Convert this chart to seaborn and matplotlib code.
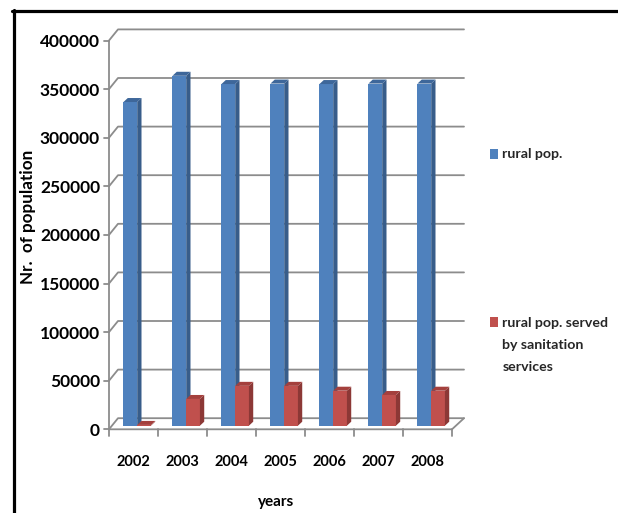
import numpy as np
import pandas as pd
import matplotlib
matplotlib.use("Agg")
import matplotlib.pyplot as plt
import seaborn as sns
from matplotlib.patches import Polygon, Rectangle
from matplotlib.lines import Line2D

# ---------------- data ----------------
years = ["2002", "2003", "2004", "2005", "2006", "2007", "2008"]
rural_pop = [333000, 360000, 351500, 352000, 351500, 352000, 352000]
rural_pop_served = [800, 27500, 41000, 41000, 36000, 31600, 36000]
series_names = ["rural pop.", "rural pop. served by sanitation services"]
legend_labels = ["rural pop.", "rural pop. served\nby sanitation\nservices"]
y_ticks = [0, 50000, 100000, 150000, 200000, 250000, 300000, 350000, 400000]
y_label = "Nr.  of population"
x_label = "years"

front_colors = ["#4F81BD", "#C0504D"]
side_colors = ["#385D8A", "#8C3836"]
top_colors = ["#3E679A", "#A4403D"]
grid_color = "#8C8C8C"

df = pd.DataFrame({
    "year": years * 2,
    "series": [series_names[0]] * len(years) + [series_names[1]] * len(years),
    "value": rural_pop + rural_pop_served,
})

sns.set_theme(style="white")
plt.rcParams["font.family"] = ["Lato", "DejaVu Sans"]

W, H = 618, 513
fig = plt.figure(figsize=(W / 100, H / 100), dpi=100)
fig.patch.set_facecolor("white")

# geometry (pixels)
PX_CAT = 49.0      # pixels per category
PX_K = 0.972       # pixels per 1000 units
X0 = 112.7         # pixel x of category edge -0.5 (bar plane)
Y0 = 425.7         # pixel y (from top) of value 0 (bar plane)
YMIN, YMAX = -12000, 412000

ax_left = X0 / W
ax_width = 7 * PX_CAT / W
ax_bottom = (H - (Y0 + (-YMIN) / 1000 * PX_K)) / H
ax_height = (YMAX - YMIN) / 1000 * PX_K / H
ax = fig.add_axes([ax_left, ax_bottom, ax_width, ax_height])


def dx(px):
    return px / PX_CAT


def dy(px):
    return px / PX_K * 1000


sns.barplot(data=df, x="year", y="value", hue="series", hue_order=series_names,
            palette=front_colors, width=0.56, saturation=1, legend=False,
            linewidth=0, edgecolor="none", ax=ax)

ax.set_xlim(-0.5, 6.5)
ax.set_ylim(YMIN, YMAX)
for s in ax.spines.values():
    s.set_visible(False)
ax.set_facecolor("none")

# 3D faces for bars
ddx, ddy = dx(4.3), dy(4.0)
for k, cont in enumerate(ax.containers):
    z = 2 + k
    for bar in cont:
        bar.set_zorder(z)
        x, w, h = bar.get_x(), bar.get_width(), bar.get_height()
        side = Polygon([(x + w, 0), (x + w + ddx, ddy), (x + w + ddx, h + ddy), (x + w, h)],
                       closed=True, facecolor=side_colors[k], edgecolor="none",
                       zorder=z + 0.1, clip_on=False)
        top = Polygon([(x, h), (x + ddx, h + ddy), (x + w + ddx, h + ddy), (x + w, h)],
                      closed=True, facecolor=top_colors[k], edgecolor="none",
                      zorder=z + 0.1, clip_on=False)
        ax.add_patch(side)
        ax.add_patch(top)

# walls / gridlines
FX, FY = dx(-3.7), dy(-3.6)
BX, BY = dx(5.3), dy(7.5)
RX = 6.5 + BX + dx(3)
lw = 1.3
for v in y_ticks:
    ax.add_line(Line2D([-0.5 + FX, -0.5 + BX, RX], [v + FY, v + BY, v + BY],
                       color=grid_color, lw=lw, zorder=0.5, clip_on=False))
    ax.add_line(Line2D([-0.5 + FX - dx(5), -0.5 + FX], [v + FY, v + FY],
                       color=grid_color, lw=lw, zorder=0.5, clip_on=False))
ax.add_line(Line2D([-0.5 + FX, -0.5 + FX], [FY, y_ticks[-1] + FY],
                   color=grid_color, lw=lw, zorder=0.5, clip_on=False))
ax.add_line(Line2D([-0.5 + FX, 6.5 + FX, RX], [FY, FY, BY],
                   color=grid_color, lw=lw, zorder=0.6, clip_on=False))
for j in range(len(years) + 1):
    ax.add_line(Line2D([j - 0.5 + FX, j - 0.5 + FX], [FY, FY - dy(6.5)],
                       color=grid_color, lw=lw, zorder=0.6, clip_on=False))

# ticks and labels
ax.set_yticks([v + FY for v in y_ticks], labels=[str(v) for v in y_ticks])
ax.set_xticks([i + FX for i in range(len(years))], labels=years)
ax.tick_params(axis="y", length=0, pad=9.1, labelsize=12.5, labelcolor="black")
ax.tick_params(axis="x", length=0, pad=13, labelsize=10.5, labelcolor="black")
for t in ax.get_yticklabels() + ax.get_xticklabels():
    t.set_fontweight("bold")

ax.set_ylabel(y_label, fontsize=12.3, fontweight="bold", color="black")
ax.yaxis.set_label_coords((36 - X0) / (7 * PX_CAT), (437.4 - 217) / 412.2)
ax.set_xlabel(x_label, fontsize=11, fontweight="bold", color="black")
ax.xaxis.set_label_coords((276 - X0) / (7 * PX_CAT), (437.4 - 495) / 412.2)

# legend (manual, matching placement)
def fx(px):
    return px / W


def fy(py):
    return (H - py) / H


fig.add_artist(Rectangle((fx(490), fy(159)), 8 / W, 10 / H, transform=fig.transFigure,
                         facecolor=front_colors[0], edgecolor="none"))
fig.add_artist(Rectangle((fx(490), fy(327)), 8 / W, 10 / H, transform=fig.transFigure,
                         facecolor=front_colors[1], edgecolor="none"))
fig.text(fx(502.5), fy(154), legend_labels[0], fontsize=10.2, fontweight="bold",
         va="center", ha="left")
fig.text(fx(502.5), fy(345), legend_labels[1], fontsize=10.2, fontweight="bold",
         va="center", ha="left", linespacing=1.98)

# frame border (top and left)
fig.add_artist(Line2D([fx(12), 1.0], [fy(10.5), fy(10.5)], transform=fig.transFigure,
                      color="black", lw=2.3))
fig.add_artist(Line2D([fx(13.5), fx(13.5)], [0, fy(9.5)], transform=fig.transFigure,
                      color="black", lw=2.3))

fig.savefig("out.png", dpi=100, facecolor="white")
